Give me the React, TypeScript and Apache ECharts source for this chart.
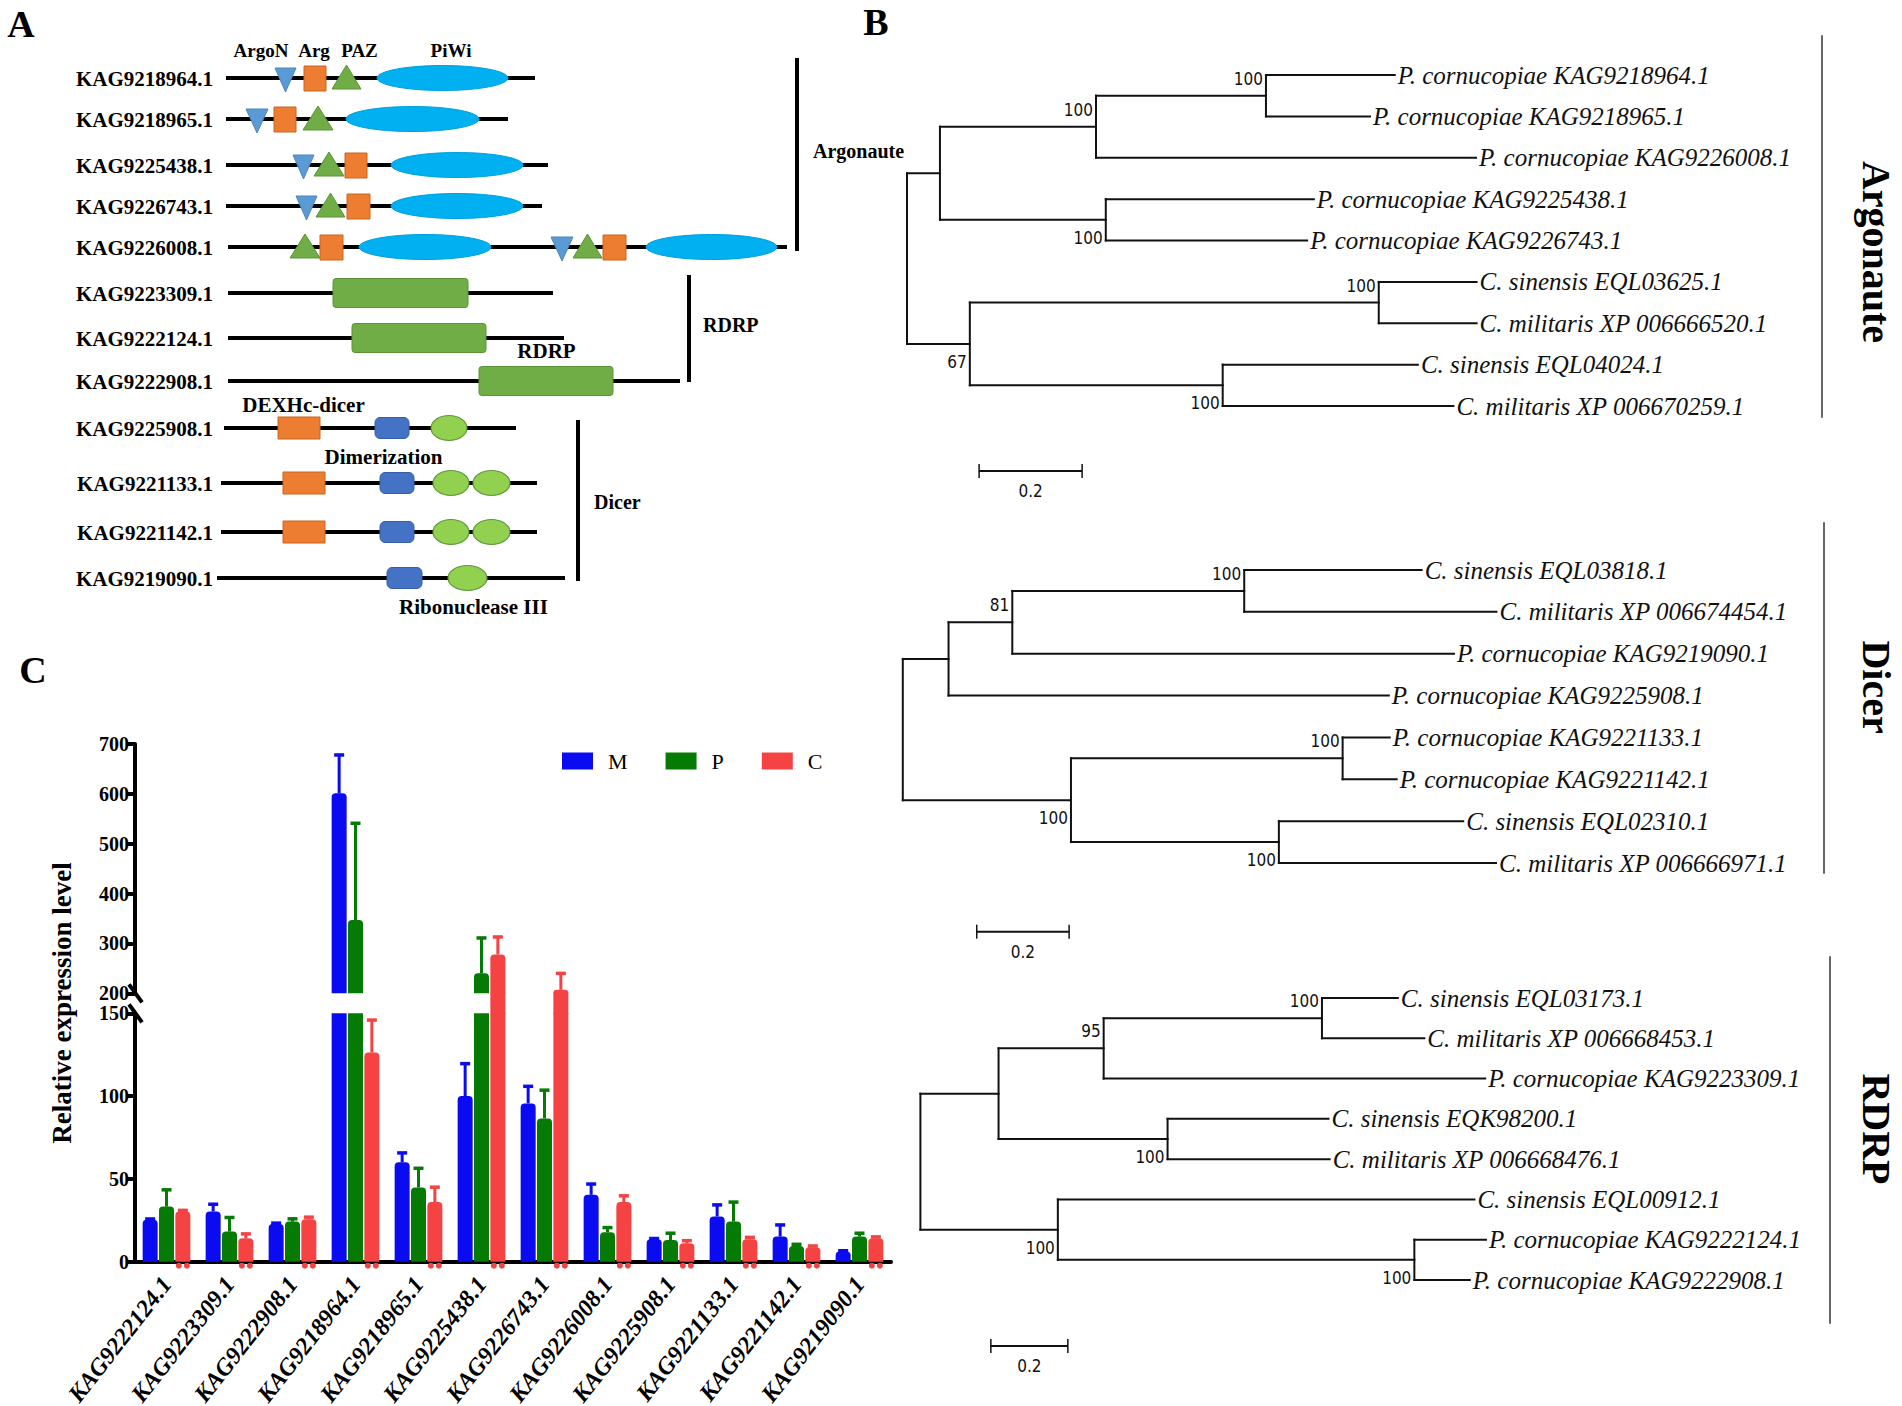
import React, { useEffect, useRef } from 'react';
import * as echarts from 'echarts';

// ---------------- Panel C data ----------------
const genes = ['KAG9222124.1', 'KAG9223309.1', 'KAG9222908.1', 'KAG9218964.1', 'KAG9218965.1', 'KAG9225438.1', 'KAG9226743.1', 'KAG9226008.1', 'KAG9225908.1', 'KAG9221133.1', 'KAG9221142.1', 'KAG9219090.1'];
const mValues = [25.3, 30.3, 22.8, 601, 60, 100, 95.6, 40.4, 13.5, 27.3, 15.2, 6.1];
const mErrors = [0.5, 4.4, 0.5, 77, 5.7, 19.6, 10.3, 6.5, 0.5, 7.0, 7.0, 0.5];
const pValues = [33.3, 18.2, 24.2, 347, 44.8, 240, 86.5, 17.8, 13.1, 24.2, 9.5, 15.2];
const pErrors = [10.1, 8.5, 1.7, 194, 11.6, 71, 17.1, 2.8, 4.1, 11.8, 1.0, 2.0];
const cValues = [30.3, 14.1, 25.7, 126.3, 36, 278, 207, 36, 11.1, 13.5, 8.7, 14.1];
const cErrors = [0.7, 2.7, 1.2, 19.6, 9, 35, 33, 3.8, 1.6, 1.2, 0.8, 0.9];
const lowerRange = [0, 150, 50]; // min, max, interval
const upperRange = [200, 700, 100];

// ---------------- Panel B data (branch lengths, bootstrap) ----------------
type TNode = { name?: string; len: number; boot?: number; up?: boolean; children?: TNode[] };
const leafN = (name: string, len: number): TNode => ({ name, len });
const clade = (len: number, children: TNode[], boot?: number, up?: boolean): TNode => ({ len, children, boot, up });

const argonauteTree = clade(0, [
  clade(0.064, [
    clade(0.303, [
      clade(0.330, [leafN('P. cornucopiae KAG9218964.1', 0.250), leafN('P. cornucopiae KAG9218965.1', 0.202)], 100, true),
      leafN('P. cornucopiae KAG9226008.1', 0.738),
    ], 100, true),
    clade(0.322, [leafN('P. cornucopiae KAG9225438.1', 0.404), leafN('P. cornucopiae KAG9226743.1', 0.391)], 100, false),
  ]),
  clade(0.122, [
    clade(0.794, [leafN('C. sinensis EQL03625.1', 0.190), leafN('C. militaris XP 006666520.1', 0.190)], 100, true),
    clade(0.491, [leafN('C. sinensis EQL04024.1', 0.379), leafN('C. militaris XP 006670259.1', 0.448)], 100, false),
  ], 67, false),
]);

const dicerTree = clade(0, [
  clade(0.099, [
    clade(0.138, [
      clade(0.502, [leafN('C. sinensis EQL03818.1', 0.384), leafN('C. militaris XP 006674454.1', 0.546)], 100, true),
      leafN('P. cornucopiae KAG9219090.1', 0.956),
    ], 81, true),
    leafN('P. cornucopiae KAG9225908.1', 0.953),
  ]),
  clade(0.364, [
    clade(0.588, [leafN('P. cornucopiae KAG9221133.1', 0.102), leafN('P. cornucopiae KAG9221142.1', 0.117)], 100, true),
    clade(0.450, [leafN('C. sinensis EQL02310.1', 0.399), leafN('C. militaris XP 006666971.1', 0.470)], 100, false),
  ], 100, false),
]);

const rdrpTree = clade(0, [
  clade(0.203, [
    clade(0.273, [
      clade(0.567, [leafN('C. sinensis EQL03173.1', 0.197), leafN('C. militaris XP 006668453.1', 0.266)], 100, true),
      leafN('P. cornucopiae KAG9223309.1', 0.991),
    ], 95, true),
    clade(0.439, [leafN('C. sinensis EQK98200.1', 0.418), leafN('C. militaris XP 006668476.1', 0.421)], 100, false),
  ]),
  clade(0.357, [
    leafN('C. sinensis EQL00912.1', 1.082),
    clade(0.926, [leafN('P. cornucopiae KAG9222124.1', 0.186), leafN('P. cornucopiae KAG9222908.1', 0.144)], 100, false),
  ], 100, false),
]);
const scaleBarLength = 0.2;

// ---------------- Panel A data (domain architecture) ----------------
const proteinIds = ['KAG9218964.1', 'KAG9218965.1', 'KAG9225438.1', 'KAG9226743.1', 'KAG9226008.1', 'KAG9223309.1', 'KAG9222124.1', 'KAG9222908.1', 'KAG9225908.1', 'KAG9221133.1', 'KAG9221142.1', 'KAG9219090.1'];
const rowPos = [0, 41, 87, 128, 169, 215, 260, 303, 350, 405, 454, 500];
const proteinStart = [226, 226, 226, 226, 228, 228, 228, 228, 224, 221, 221, 217];
const proteinEnd = [535, 508, 548, 542, 787, 553, 564, 680, 516, 537, 537, 565];
const proteinDomains: [string, number, number][][] = [
  [['ArgoN', 275, 296], ['Arg', 304, 326], ['PAZ', 332, 361], ['PiWi', 377, 508]],
  [['ArgoN', 246, 268], ['Arg', 274, 296], ['PAZ', 303, 333], ['PiWi', 346, 479]],
  [['ArgoN', 293, 314], ['PAZ', 314, 344], ['Arg', 345, 367], ['PiWi', 391, 523]],
  [['ArgoN', 296, 317], ['PAZ', 316, 345], ['Arg', 347, 370], ['PiWi', 391, 523]],
  [['PAZ', 290, 320], ['Arg', 320, 343], ['PiWi', 359, 491], ['ArgoN', 551, 573], ['PAZ', 573, 602], ['Arg', 603, 626], ['PiWi', 646, 777]],
  [['RDRP', 333, 468]],
  [['RDRP', 352, 486]],
  [['RDRP', 479, 613]],
  [['DEXHc', 278, 320], ['Dimer', 375, 409], ['RNase', 431, 467]],
  [['DEXHc', 283, 325], ['Dimer', 380, 414], ['RNase', 433, 469], ['RNase', 473, 510]],
  [['DEXHc', 283, 325], ['Dimer', 380, 414], ['RNase', 433, 469], ['RNase', 473, 510]],
  [['Dimer', 387, 422], ['RNase', 448, 487]],
];

// ---------------- styles ----------------
const SERIF = "'Liberation Serif', 'Times New Roman', serif";
const NARROW = "'Liberation Sans Narrow', 'DejaVu Sans Condensed', 'Liberation Sans', sans-serif";
const M_COLOR = '#0b0bf2';
const P_COLOR = '#057a05';
const C_COLOR = '#f54343';
const BAR_W = 15;
const BAR_STEP = 16.35;
const BREAK_GAP = 20;

type TItem = { x0: number; x: number; y: number; yTop?: number; yBot?: number; name?: string; boot?: number; up?: boolean; leaf: boolean };
function layoutTree(root: TNode): TItem[] {
  const items: TItem[] = [];
  let leaf = 0;
  const walk = (n: TNode, px: number): number => {
    const x = px + n.len;
    if (!n.children) {
      const y = leaf++;
      items.push({ x0: px, x, y, name: n.name, leaf: true });
      return y;
    }
    const ys = n.children.map((c) => walk(c, x));
    const y = (ys[0] + ys[ys.length - 1]) / 2;
    items.push({ x0: px, x, y, yTop: ys[0], yBot: ys[ys.length - 1], boot: n.boot, up: n.up, leaf: false });
    return y;
  };
  walk(root, 0);
  return items;
}

const txt = (x: number, y: number, text: string, font: string, align = 'center', rotation = 0, fill = '#000') => ({
  type: 'text', x, y, rotation, silent: true,
  style: { text, font, fill, align, verticalAlign: 'middle', textAlign: align, textVerticalAlign: 'middle' },
});
const seg = (x1: number, y1: number, x2: number, y2: number, w: number, color = '#000') => ({
  type: 'line', silent: true, shape: { x1, y1, x2, y2 }, style: { stroke: color, lineWidth: w, lineCap: 'square' },
});

function treeSeries(tree: TNode, idx: number) {
  const items = layoutTree(tree);
  return {
    type: 'custom', xAxisIndex: idx, yAxisIndex: idx, z: 5, silent: true,
    data: items.map((it) => [it.x, it.y]),
    renderItem: (params: any, api: any) => {
      const it = items[params.dataIndex];
      const p = api.coord([it.x, it.y]);
      const p0 = api.coord([it.x0, it.y]);
      const children: any[] = [];
      if (it.x !== it.x0) {
        children.push({ type: 'line', shape: { x1: p0[0], y1: p[1], x2: p[0], y2: p[1] }, style: { stroke: '#111', lineWidth: 2, lineCap: 'square' } });
      }
      if (it.leaf) {
        children.push({ type: 'text', x: p[0] + 3, y: p[1], style: { text: it.name, font: `italic 25px ${SERIF}`, fill: '#111', align: 'left', verticalAlign: 'middle', textAlign: 'left', textVerticalAlign: 'middle' } });
      } else {
        const a = api.coord([it.x, it.yTop]);
        const b = api.coord([it.x, it.yBot]);
        children.push({ type: 'line', shape: { x1: a[0], y1: a[1], x2: b[0], y2: b[1] }, style: { stroke: '#111', lineWidth: 2, lineCap: 'square' } });
        if (it.boot !== undefined) {
          children.push({ type: 'text', x: p[0] - 3, y: p[1] + (it.up ? -17 : 18), style: { text: String(it.boot), font: `17px ${NARROW}`, fill: '#111', align: 'right', verticalAlign: 'middle', textAlign: 'right', textVerticalAlign: 'middle' } });
        }
      }
      return { type: 'group', children };
    },
  };
}

function scaleBarSeries(idx: number, start: number, row: number) {
  return {
    type: 'custom', xAxisIndex: idx, yAxisIndex: idx, z: 5, silent: true,
    data: [[start, row]],
    renderItem: (params: any, api: any) => {
      const a = api.coord([api.value(0), api.value(1)]);
      const b = api.coord([api.value(0) + scaleBarLength, api.value(1)]);
      return {
        type: 'group', children: [
          { type: 'line', shape: { x1: a[0], y1: a[1], x2: b[0], y2: b[1] }, style: { stroke: '#111', lineWidth: 2 } },
          { type: 'line', shape: { x1: a[0], y1: a[1] - 7, x2: a[0], y2: a[1] + 7 }, style: { stroke: '#111', lineWidth: 1.5 } },
          { type: 'line', shape: { x1: b[0], y1: b[1] - 7, x2: b[0], y2: b[1] + 7 }, style: { stroke: '#111', lineWidth: 1.5 } },
          { type: 'text', x: (a[0] + b[0]) / 2, y: a[1] + 20, style: { text: String(scaleBarLength), font: `17px ${NARROW}`, fill: '#111', align: 'center', verticalAlign: 'middle', textAlign: 'center', textVerticalAlign: 'middle' } },
        ],
      };
    },
  };
}

const domainStyle: Record<string, any> = {
  ArgoN: { fill: '#5b9bd5', stroke: '#4a85bd' },
  Arg: { fill: '#ed7d31', stroke: '#c9651f' },
  PAZ: { fill: '#70ad47', stroke: '#5a9337' },
  PiWi: { fill: '#00b0f0', stroke: '#00a0dc' },
  RDRP: { fill: '#70ad47', stroke: '#5a9337' },
  DEXHc: { fill: '#ed7d31', stroke: '#c9651f' },
  Dimer: { fill: '#4472c4', stroke: '#365fa8' },
  RNase: { fill: '#92d050', stroke: '#5f9a3a' },
};

function domainShape(type: string, x0: number, x1: number, y: number) {
  const st = { ...domainStyle[type], lineWidth: 1 };
  const w = x1 - x0;
  const mid = (x0 + x1) / 2;
  switch (type) {
    case 'ArgoN':
      return { type: 'polygon', shape: { points: [[x0, y - 10], [x1, y - 10], [mid, y + 14]] }, style: st };
    case 'PAZ':
      return { type: 'polygon', shape: { points: [[x0, y + 11], [x1, y + 11], [mid, y - 13]] }, style: st };
    case 'Arg':
      return { type: 'rect', shape: { x: x0, y: y - 12, width: w, height: 25 }, style: st };
    case 'PiWi':
      return { type: 'ellipse', shape: { cx: mid, cy: y, rx: w / 2, ry: 12.5 }, style: st };
    case 'RDRP':
      return { type: 'rect', shape: { x: x0, y: y - 14.5, width: w, height: 29, r: 3 }, style: st };
    case 'DEXHc':
      return { type: 'rect', shape: { x: x0, y: y - 11, width: w, height: 22 }, style: st };
    case 'Dimer':
      return { type: 'rect', shape: { x: x0, y: y - 10.5, width: w, height: 21, r: 5 }, style: st };
    default:
      return { type: 'ellipse', shape: { cx: mid, cy: y, rx: w / 2, ry: 12.5 }, style: { ...st, lineWidth: 1.2 } };
  }
}

function buildOption() {
  const groups = [
    { name: 'M', values: mValues, errors: mErrors, color: M_COLOR },
    { name: 'P', values: pValues, errors: pErrors, color: P_COLOR },
    { name: 'C', values: cValues, errors: cErrors, color: C_COLOR },
  ];
  const axisFont = { color: '#000', fontFamily: SERIF, fontWeight: 'bold' as const };
  const valueAxisCommon = {
    type: 'value',
    axisLine: { show: true, lineStyle: { color: '#000', width: 4 } },
    axisTick: { show: true, length: 8, lineStyle: { color: '#000', width: 4 } },
    axisLabel: { ...axisFont, fontSize: 20, lineHeight: 19, margin: 6 },
    splitLine: { show: false },
  };

  const lowerBars = groups.map((g) => ({
    type: 'bar', name: g.name, xAxisIndex: 0, yAxisIndex: 0, barWidth: BAR_W, barGap: '9%', clip: true, z: 2,
    itemStyle: { color: g.color, borderRadius: [4, 4, 0, 0] },
    data: g.values.map((v) => (v > lowerRange[1] ? { value: v, itemStyle: { borderRadius: 0 } } : v)),
  }));
  const upperBars = groups.map((g) => ({
    type: 'bar', name: g.name, xAxisIndex: 1, yAxisIndex: 1, barWidth: BAR_W, barGap: '9%', clip: true, z: 2,
    itemStyle: { color: g.color, borderRadius: [4, 4, 0, 0] },
    data: g.values,
  }));

  const errorSeries = (axis: number, lo: number, hi: number) => ({
    type: 'custom', xAxisIndex: axis, yAxisIndex: axis, z: 4, silent: true,
    data: genes.map((_, i) => [i, lo]),
    renderItem: (params: any, api: any) => {
      const i = params.dataIndex;
      const children: any[] = [];
      groups.forEach((g, k) => {
        const v = g.values[i];
        const e = g.errors[i];
        if (v < lo || v > hi) return;
        const base = api.coord([i, v]);
        const top = api.coord([i, v + e]);
        const x = base[0] + (k - 1) * BAR_STEP;
        children.push({ type: 'line', shape: { x1: x, y1: base[1], x2: x, y2: top[1] }, style: { stroke: g.color, lineWidth: 3 } });
        children.push({ type: 'line', shape: { x1: x - 5, y1: top[1], x2: x + 5, y2: top[1] }, style: { stroke: g.color, lineWidth: 3.5 } });
      });
      return { type: 'group', children };
    },
  });

  // red bars continue across the axis break
  const bridgeSeries = {
    type: 'custom', xAxisIndex: 1, yAxisIndex: 1, z: 3, silent: true,
    data: genes.map((_, i) => [i, upperRange[0]]),
    renderItem: (params: any, api: any) => {
      const i = params.dataIndex;
      if (cValues[i] < upperRange[0]) return { type: 'group', children: [] };
      const p = api.coord([i, upperRange[0]]);
      return { type: 'rect', shape: { x: p[0] + BAR_STEP - BAR_W / 2, y: p[1] - 1, width: BAR_W, height: BREAK_GAP + 2 }, style: { fill: C_COLOR } };
    },
  };

  // small red marks under the C bars
  const footSeries = {
    type: 'custom', xAxisIndex: 0, yAxisIndex: 0, z: 1, silent: true,
    data: genes.map((_, i) => [i, 0]),
    renderItem: (params: any, api: any) => {
      const p = api.coord([params.dataIndex, 0]);
      const x = p[0] + BAR_STEP;
      return {
        type: 'group', children: [
          { type: 'circle', shape: { cx: x - 4, cy: p[1] + 4, r: 3 }, style: { fill: C_COLOR } },
          { type: 'circle', shape: { cx: x + 4, cy: p[1] + 4, r: 3 }, style: { fill: C_COLOR } },
        ],
      };
    },
  };

  const breakSeries = (axis: number, val: number) => ({
    type: 'custom', xAxisIndex: axis, yAxisIndex: axis, z: 6, silent: true,
    data: [[0, val]],
    renderItem: (params: any, api: any) => {
      const gx = params.coordSys.x;
      const y = api.coord([0, val])[1];
      return { type: 'line', shape: { x1: gx - 6, y1: y - 9, x2: gx + 7, y2: y + 9 }, style: { stroke: '#000', lineWidth: 4 } };
    },
  });

  const domainSeries = {
    type: 'custom', xAxisIndex: 5, yAxisIndex: 5, z: 5, silent: true,
    data: rowPos.map((r) => [0, r]),
    renderItem: (params: any, api: any) => {
      const i = params.dataIndex;
      const y = api.coord([0, rowPos[i]])[1];
      const xs = api.coord([proteinStart[i], 0])[0];
      const xe = api.coord([proteinEnd[i], 0])[0];
      const lx = api.coord([213, 0])[0];
      const children: any[] = [
        { type: 'line', shape: { x1: xs, y1: y, x2: xe, y2: y }, style: { stroke: '#000', lineWidth: 4 } },
      ];
      proteinDomains[i].forEach(([t, a, b]) => {
        children.push(domainShape(t, api.coord([a, 0])[0], api.coord([b, 0])[0], y));
      });
      children.push({ type: 'text', x: lx, y: y + 1, style: { text: proteinIds[i], font: `bold 21px ${SERIF}`, fill: '#000', align: 'right', verticalAlign: 'middle', textAlign: 'right', textVerticalAlign: 'middle' } });
      return { type: 'group', children };
    },
  };

  const graphic: any[] = [
    // panel letters
    txt(21, 24, 'A', `bold 38px ${SERIF}`),
    txt(876, 22, 'B', `bold 38px ${SERIF}`),
    txt(33, 670, 'C', `bold 38px ${SERIF}`),
    // panel A headers / annotations
    txt(261, 50, 'ArgoN', `bold 19px ${SERIF}`),
    txt(314, 50, 'Arg', `bold 19px ${SERIF}`),
    txt(359.5, 50, 'PAZ', `bold 19px ${SERIF}`),
    txt(451, 50, 'PiWi', `bold 19px ${SERIF}`),
    txt(546.5, 351, 'RDRP', `bold 21px ${SERIF}`),
    txt(303.5, 405, 'DEXHc-dicer', `bold 21px ${SERIF}`),
    txt(383.5, 457, 'Dimerization', `bold 21px ${SERIF}`),
    txt(473.5, 607, 'Ribonuclease III', `bold 21px ${SERIF}`),
    seg(797, 60, 797, 249, 4),
    txt(813, 151, 'Argonaute', `bold 20px ${SERIF}`, 'left'),
    seg(689, 277, 689, 380, 4),
    txt(703, 325, 'RDRP', `bold 20px ${SERIF}`, 'left'),
    seg(578, 422, 578, 579, 4),
    txt(594, 502, 'Dicer', `bold 20px ${SERIF}`, 'left'),
    // panel B clade brackets
    seg(1822, 36, 1822, 417, 1.5, '#333'),
    txt(1876, 252, 'Argonaute', `bold 40px ${SERIF}`, 'center', -Math.PI / 2),
    seg(1824, 523, 1824, 873, 1.5, '#333'),
    txt(1876, 687, 'Dicer', `bold 40px ${SERIF}`, 'center', -Math.PI / 2),
    seg(1830, 957, 1830, 1323, 1.5, '#333'),
    txt(1876, 1129, 'RDRP', `bold 40px ${SERIF}`, 'center', -Math.PI / 2),
    // panel C axis title
    txt(62, 1003, 'Relative expression level', `bold 27px ${SERIF}`, 'center', Math.PI / 2),
  ];

  return {
    animation: false,
    backgroundColor: '#ffffff',
    graphic,
    legend: {
      data: ['M', 'P', 'C'], left: 557, top: 745, itemWidth: 31, itemHeight: 17, itemGap: 38, icon: 'rect', selectedMode: false,
      textStyle: { fontFamily: SERIF, fontSize: 22, color: '#000', width: 24, padding: [0, 0, 0, 10] },
    },
    grid: [
      { left: 135, top: 1013.3, width: 756, height: 248.4, outerBoundsMode: 'none' },
      { left: 135, top: 744, width: 756, height: 249.3, outerBoundsMode: 'none' },
      { left: 907, top: 75, width: 618, height: 331, outerBoundsMode: 'none' },
      { left: 902.8, top: 570, width: 600.6, height: 293, outerBoundsMode: 'none' },
      { left: 920.4, top: 998, width: 577.5, height: 282, outerBoundsMode: 'none' },
      { left: 0, top: 78, width: 800, height: 500, outerBoundsMode: 'none' },
    ],
    xAxis: [
      {
        gridIndex: 0, type: 'category', data: genes,
        axisLine: { lineStyle: { color: '#000', width: 4 } },
        axisTick: { alignWithLabel: true, length: 10, lineStyle: { color: '#000', width: 4 } },
        axisLabel: { ...axisFont, fontSize: 24, fontStyle: 'italic', rotate: 52, margin: 18, interval: 0 },
      },
      { gridIndex: 1, type: 'category', data: genes, show: false },
      { gridIndex: 2, type: 'value', min: 0, max: 1.2, show: false },
      { gridIndex: 3, type: 'value', min: 0, max: 1.3, show: false },
      { gridIndex: 4, type: 'value', min: 0, max: 1.5, show: false },
      { gridIndex: 5, type: 'value', min: 0, max: 800, show: false },
    ],
    yAxis: [
      { ...valueAxisCommon, gridIndex: 0, min: lowerRange[0], max: lowerRange[1], interval: lowerRange[2] },
      { ...valueAxisCommon, gridIndex: 1, min: upperRange[0], max: upperRange[1], interval: upperRange[2] },
      { gridIndex: 2, type: 'value', min: 0, max: 8, inverse: true, show: false },
      { gridIndex: 3, type: 'value', min: 0, max: 7, inverse: true, show: false },
      { gridIndex: 4, type: 'value', min: 0, max: 7, inverse: true, show: false },
      { gridIndex: 5, type: 'value', min: 0, max: 500, inverse: true, show: false },
    ],
    series: [
      ...lowerBars,
      ...upperBars,
      footSeries,
      bridgeSeries,
      errorSeries(0, lowerRange[0], lowerRange[1]),
      errorSeries(1, upperRange[0], upperRange[1]),
      breakSeries(0, lowerRange[1]),
      breakSeries(1, upperRange[0]),
      treeSeries(argonauteTree, 2),
      treeSeries(dicerTree, 3),
      treeSeries(rdrpTree, 4),
      scaleBarSeries(2, 0.14, 9.57),
      scaleBarSeries(3, 0.16, 8.64),
      scaleBarSeries(4, 0.183, 8.64),
      domainSeries,
    ],
  };
}

export default function App() {
  const ref = useRef<HTMLDivElement>(null);
  useEffect(() => {
    document.body.style.margin = '0';
    const chart = echarts.init(ref.current!, null, { renderer: 'svg' });
    chart.setOption(buildOption() as any);
    return () => chart.dispose();
  }, []);
  return <div ref={ref} style={{ width: 1902, height: 1406, background: '#fff' }} />;
}
